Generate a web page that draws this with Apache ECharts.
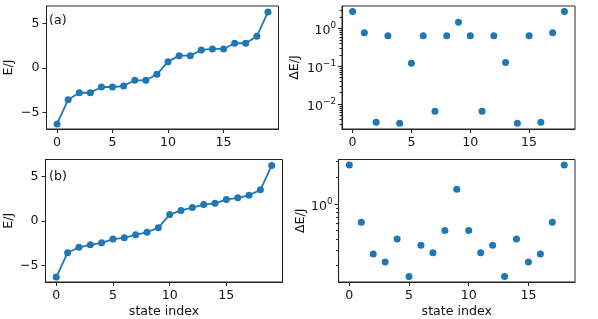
<!DOCTYPE html>
<html>
<head>
<meta charset="utf-8">
<script src="https://cdn.jsdelivr.net/npm/echarts@6/dist/echarts.min.js"></script>
<style>html,body{margin:0;padding:0;background:#fff;}#c{width:598px;height:319px;}</style>
</head>
<body>
<div id="c"></div>
<script>
// ---- data ----
const stateIndexE = [0,1,2,3,4,5,6,7,8,9,10,11,12,13,14,15,16,17,18,19];
const stateIndexGap = [0,1,2,3,4,5,6,7,8,9,10,11,12,13,14,15,16,17,18];
const energiesA = [-6.27,-3.55,-2.77,-2.77,-2.13,-2.13,-2.02,-1.38,-1.38,-0.71,0.71,1.38,1.38,2.02,2.13,2.13,2.77,2.77,3.55,6.27];
const gapsA = [2.78,0.77,0.0033,0.64,0.0031,0.12,0.64,0.0065,0.64,1.46,0.64,0.0065,0.64,0.125,0.0031,0.64,0.0033,0.77,2.78];
const energiesB = [-6.27,-3.54,-2.93,-2.65,-2.43,-2.01,-1.87,-1.53,-1.23,-0.74,0.74,1.21,1.53,1.87,2.01,2.43,2.62,2.91,3.52,6.27];
const gapsB = [2.74,0.62,0.27,0.22,0.40,0.151,0.34,0.28,0.50,1.46,0.50,0.28,0.34,0.151,0.40,0.22,0.27,0.62,2.74];
const xTicks = [0,5,10,15];
const eTicks = [-5,0,5];
const logTicksA = [0.01,0.1,1];
const logTicksB = [1];
const minorA = [0.003,0.004,0.005,0.006,0.007,0.008,0.009,0.02,0.03,0.04,0.05,0.06,0.07,0.08,0.09,0.2,0.3,0.4,0.5,0.6,0.7,0.8,0.9,2,3];
const minorB = [0.2,0.3,0.4,0.5,0.6,0.7,0.8,0.9,2,3];
const panelLabels = ['(a)','(b)'];

const FONT = 'DejaVu Sans';
const FS = 12.6;
const BLUE = '#1f77b4';
const INK = '#111';
const LINE = '#222';

function pairs(xs, ys){ return ys.map((v,i)=>[xs[i], v]); }
function logLabel(v){
  const e = Math.round(Math.log10(v));
  return '{b|10}{e|' + String(e).replace('-', '\u2212') + '}';
}
function linLabel(v){ return String(v).replace('-', '\u2212'); }

function xAxis(gi, min, max, withName){
  return {
    type:'value', gridIndex:gi, min:min, max:max, position:'bottom',
    axisLine:{show:true, onZero:false, lineStyle:{color:LINE, width:1}},
    splitLine:{show:false},
    axisTick:{show:true, inside:false, length:4, lineStyle:{color:LINE, width:1}, customValues:xTicks},
    axisLabel:{show:true, customValues:xTicks, color:INK, fontFamily:FONT, fontSize:FS, margin:7},
    name: withName ? 'state index' : '',
    nameLocation:'middle', nameGap:23,
    nameTextStyle:{color:INK, fontFamily:FONT, fontSize:FS}
  };
}
function linY(gi, min, max, gap){
  return {
    type:'value', gridIndex:gi, min:min, max:max, position:'left',
    axisLine:{show:true, onZero:false, lineStyle:{color:LINE, width:1}}, splitLine:{show:false},
    axisTick:{show:true, inside:false, length:4, lineStyle:{color:LINE, width:1}, customValues:eTicks},
    axisLabel:{show:true, customValues:eTicks, formatter:linLabel, color:INK, fontFamily:FONT, fontSize:FS, margin:7},
    name:'E/J', nameLocation:'middle', nameGap:gap, nameRotate:90,
    nameTextStyle:{color:INK, fontFamily:FONT, fontSize:FS}
  };
}
function logY(gi, min, max, ticks, gap){
  return {
    type:'log', logBase:10, gridIndex:gi, min:min, max:max, position:'left',
    axisLine:{show:true, onZero:false, lineStyle:{color:LINE, width:1}}, splitLine:{show:false}, minorTick:{show:false},
    axisTick:{show:true, inside:false, length:4, lineStyle:{color:LINE, width:1}, customValues:ticks},
    axisLabel:{show:true, customValues:ticks, formatter:logLabel, color:INK, fontFamily:FONT, margin:6,
      rich:{
        b:{fontFamily:FONT, fontSize:FS, color:INK, verticalAlign:'bottom', lineHeight:18},
        e:{fontFamily:FONT, fontSize:8.8, color:INK, verticalAlign:'top', lineHeight:18, padding:[2,0,0,0]}
      }},
    name:'\u0394E/J', nameLocation:'middle', nameGap:gap, nameRotate:90,
    nameTextStyle:{color:INK, fontFamily:FONT, fontSize:FS}
  };
}
function logMinor(gi, min, max, ticks){
  return {
    type:'log', logBase:10, gridIndex:gi, min:min, max:max, position:'left', offset:0,
    axisLine:{show:false, onZero:false}, splitLine:{show:false},
    axisTick:{show:true, inside:false, length:2.5, lineStyle:{color:LINE, width:1}, customValues:ticks},
    axisLabel:{show:false}
  };
}
function gridBox(left, top, width, height){
  return {left:left, top:top, width:width, height:height, show:true, borderColor:LINE, borderWidth:1, backgroundColor:'transparent', containLabel:false};
}

const chart = echarts.init(document.getElementById('c'), null, {renderer:'canvas'});
chart.setOption({
  animation:false,
  backgroundColor:'#fff',
  textStyle:{fontFamily:FONT},
  title:[
    {text:panelLabels[0], left:49, top:14, textStyle:{fontFamily:FONT, fontSize:FS, fontWeight:'normal', color:INK}, padding:0},
    {text:panelLabels[1], left:49, top:170, textStyle:{fontFamily:FONT, fontSize:FS, fontWeight:'normal', color:INK}, padding:0}
  ],
  grid:[
    gridBox(46.5, 6, 232, 123),
    gridBox(342, 6, 233, 123),
    gridBox(45.5, 159.5, 237, 123),
    gridBox(338.6, 159.5, 236.4, 123)
  ],
  xAxis:[
    xAxis(0, -0.95, 19.95, false),
    xAxis(1, -0.9, 18.9, false),
    xAxis(2, -0.95, 19.95, true),
    xAxis(3, -0.9, 18.9, true)
  ],
  yAxis:[
    linY(0, -6.83, 6.94, 31),
    logY(1, 0.0022, 3.91, logTicksA, 41),
    logMinor(1, 0.0022, 3.91, minorA),
    linY(2, -6.83, 6.93, 30),
    logY(3, 0.1306, 3.17, logTicksB, 31),
    logMinor(3, 0.1306, 3.17, minorB)
  ],
  series:[
    {type:'line', xAxisIndex:0, yAxisIndex:0, data:pairs(stateIndexE, energiesA), symbol:'circle', symbolSize:7, showAllSymbol:true,
     itemStyle:{color:BLUE}, lineStyle:{color:BLUE, width:1.8}},
    {type:'scatter', xAxisIndex:1, yAxisIndex:1, data:pairs(stateIndexGap, gapsA), symbol:'circle', symbolSize:7, itemStyle:{color:BLUE, opacity:1}},
    {type:'line', xAxisIndex:2, yAxisIndex:3, data:pairs(stateIndexE, energiesB), symbol:'circle', symbolSize:7, showAllSymbol:true,
     itemStyle:{color:BLUE}, lineStyle:{color:BLUE, width:1.8}},
    {type:'scatter', xAxisIndex:3, yAxisIndex:4, data:pairs(stateIndexGap, gapsB), symbol:'circle', symbolSize:7, itemStyle:{color:BLUE, opacity:1}}
  ]
});
</script>
</body>
</html>
